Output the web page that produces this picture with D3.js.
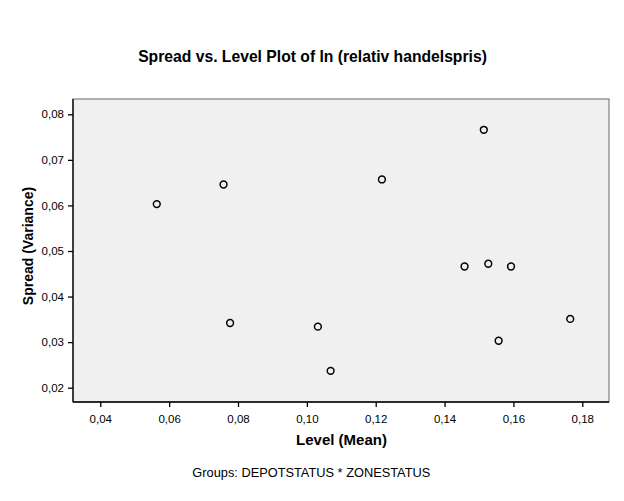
<!DOCTYPE html>
<html>
<head>
<meta charset="utf-8">
<script src="https://cdn.jsdelivr.net/npm/d3@7/dist/d3.min.js"></script>
<style>
  html, body { margin: 0; padding: 0; background: #fff; }
  svg { display: block; font-family: Arial, "Liberation Sans", sans-serif; }
</style>
</head>
<body>
<script>
// Data: Level (Mean) and Spread (Variance) per group
const levelMean = [0.0564, 0.0758, 0.0777, 0.1032, 0.1069, 0.1218, 0.1514, 0.1458, 0.1527, 0.1593, 0.1557, 0.1765];
const spreadVariance = [0.0603, 0.0646, 0.0342, 0.0334, 0.0237, 0.0657, 0.0766, 0.0466, 0.0472, 0.0466, 0.0303, 0.0351];
const xTicks = [0.04, 0.06, 0.08, 0.10, 0.12, 0.14, 0.16, 0.18];
const yTicks = [0.02, 0.03, 0.04, 0.05, 0.06, 0.07, 0.08];
const titleText = "Spread vs. Level Plot of ln (relativ handelspris)";
const xTitle = "Level (Mean)";
const yTitle = "Spread (Variance)";
const footnote = "Groups: DEPOTSTATUS * ZONESTATUS";

const W = 624, H = 501;
const plot = { left: 73, top: 99, right: 609, bottom: 402 };

const svg = d3.select("body").append("svg").attr("width", W).attr("height", H);

const x = d3.scaleLinear().domain([0.03207, 0.18776]).range([plot.left, plot.right]);
const y = d3.scaleLinear().domain([0.01686, 0.08336]).range([plot.bottom, plot.top]);

const fmt = d => d3.format(".2f")(d).replace(".", ",");

// plot background
svg.append("rect")
  .attr("x", plot.left).attr("y", plot.top)
  .attr("width", plot.right - plot.left).attr("height", plot.bottom - plot.top)
  .attr("fill", "#f0f0f0").attr("stroke", "#7f7f7f").attr("stroke-width", 1.2);

// axes
const xAxis = svg.append("g").attr("transform", `translate(0,${plot.bottom})`)
  .call(d3.axisBottom(x).tickValues(xTicks).tickFormat(fmt).tickSize(5).tickPadding(8));
const yAxis = svg.append("g").attr("transform", `translate(${plot.left},0)`)
  .call(d3.axisLeft(y).tickValues(yTicks).tickFormat(fmt).tickSize(5).tickPadding(4));

[xAxis, yAxis].forEach(g => {
  g.select(".domain").attr("stroke", "#000").attr("stroke-width", 1.3);
  g.selectAll(".tick line").attr("stroke", "#000").attr("stroke-width", 1.3);
  g.selectAll(".tick text").attr("fill", "#000").style("font-size", "11.5px")
    .style("font-family", "Arial, 'Liberation Sans', sans-serif");
});
xAxis.select(".domain").attr("d", `M${plot.left},0H${plot.right}`);
yAxis.select(".domain").attr("d", `M0,${plot.bottom}V${plot.top}`);

// points
svg.append("g").selectAll("circle")
  .data(levelMean.map((v, i) => [v, spreadVariance[i]]))
  .join("circle")
  .attr("cx", d => x(d[0])).attr("cy", d => y(d[1]))
  .attr("r", 3.4)
  .attr("fill", "none").attr("stroke", "#000").attr("stroke-width", 1.5);

// title
svg.append("text").attr("x", 312.5).attr("y", 62).attr("text-anchor", "middle")
  .style("font-size", "15.7px").style("font-weight", "bold").text(titleText);

// axis titles
svg.append("text").attr("x", 341.5).attr("y", 445).attr("text-anchor", "middle")
  .style("font-size", "15px").style("font-weight", "bold").text(xTitle);
svg.append("text").attr("transform", "translate(33,246) rotate(-90)").attr("text-anchor", "middle")
  .style("font-size", "14px").style("font-weight", "bold").text(yTitle);

// footnote
svg.append("text").attr("x", 311.3).attr("y", 476.5).attr("text-anchor", "middle")
  .style("font-size", "12.8px").text(footnote);
</script>
</body>
</html>
